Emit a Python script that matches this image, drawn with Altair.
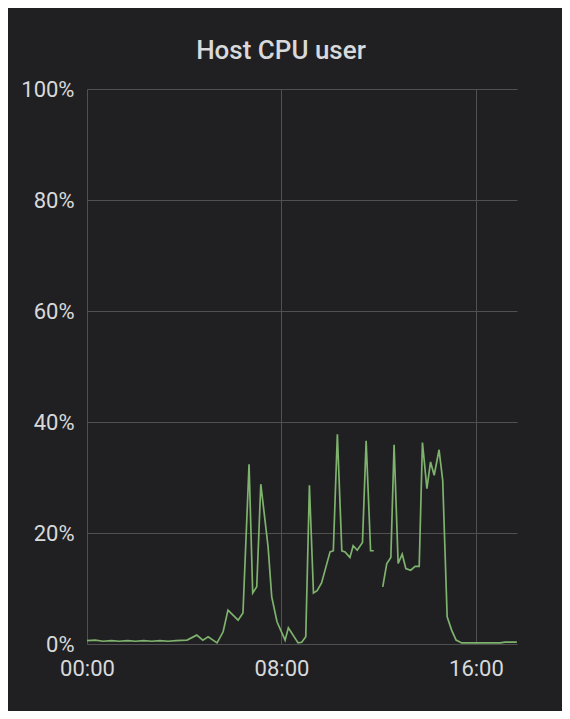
import altair as alt
import pandas as pd

times = [
    "00:00", "00:20", "00:40", "01:00", "01:20", "01:40", "02:00", "02:20",
    "02:40", "03:00", "03:20", "03:40", "04:07", "04:31", "04:46", "04:59",
    "05:21", "05:36", "05:48", "06:13", "06:25", "06:40", "06:49", "06:59",
    "07:09", "07:27", "07:36", "07:49", "08:09", "08:17", "08:41", "08:50",
    "09:00", "09:09", "09:19", "09:28", "09:39", "10:00", "10:08", "10:18",
    "10:29", "10:37", "10:49", "10:57", "11:07", "11:20", "11:29", "11:40",
    "11:48", "12:00", "12:10", "12:20", "12:30", "12:38", "12:48", "12:58",
    "13:07", "13:19", "13:30", "13:40", "13:48", "13:59", "14:08", "14:17",
    "14:29", "14:38", "14:49", "15:00", "15:11", "15:25", "16:00", "16:30",
    "17:00", "17:12", "17:41",
]
cpu_user = [
    0.6, 0.7, 0.5, 0.6, 0.5, 0.6, 0.5, 0.6,
    0.5, 0.6, 0.5, 0.6, 0.7, 1.6, 0.7, 1.3,
    0.2, 2.2, 6.1, 4.3, 5.6, 32.4, 9.2, 10.3,
    28.8, 17.5, 8.5, 4.0, 0.7, 2.9, 0.2, 0.3,
    1.3, 28.6, 9.2, 9.6, 11.0, 16.6, 16.8, 37.8,
    16.8, 16.6, 15.6, 17.7, 16.9, 18.3, 36.6, 16.8,
    16.8, None, 10.3, 14.5, 15.6, 35.9, 14.5, 16.2,
    13.6, 13.3, 14.0, 14.0, 36.3, 28.0, 32.8, 30.4,
    35.0, 29.5, 4.9, 2.5, 0.7, 0.2, 0.2, 0.2,
    0.2, 0.35, 0.35,
]

x_ticks = [0, 8, 16]
y_ticks = [0, 20, 40, 60, 80, 100]

hours = [int(t[:2]) + int(t[3:]) / 60 for t in times]
df = pd.DataFrame({"hour": hours, "value": cpu_user})

PANEL = "#202023"
GRID = "#505053"
TEXT = "#d8d9da"

chart = (
    alt.Chart(df)
    .mark_line(color="#7eb26d", strokeWidth=1.7, invalid="break-paths-show-domains")
    .encode(
        x=alt.X(
            "hour:Q",
            scale=alt.Scale(domain=[0, 17.69], nice=False, zero=False),
            axis=alt.Axis(
                values=x_ticks,
                labelExpr="(datum.value < 10 ? '0' : '') + datum.value + ':00'",
                title=None,
                grid=True,
                gridColor=GRID,
                ticks=False,
                domain=False,
                labelFlush=False,
                labelColor=TEXT,
                labelFontSize=22,
                labelFont="Roboto",
                labelPadding=14,
            ),
        ),
        y=alt.Y(
            "value:Q",
            scale=alt.Scale(domain=[0, 100], nice=False),
            axis=alt.Axis(
                values=y_ticks,
                labelExpr="datum.value + '%'",
                title=None,
                grid=True,
                gridColor=GRID,
                ticks=False,
                domain=False,
                labelColor=TEXT,
                labelFontSize=22,
                labelFont="Roboto",
                labelPadding=13,
            ),
        ),
    )
    .properties(
        width=430,
        height=555,
        title=alt.TitleParams(
            "Host CPU user",
            anchor="middle",
            frame="group",
            dx=-21,
            offset=14,
            color=TEXT,
            fontSize=26,
            font="Roboto",
            fontWeight=500,
        ),
        autosize=alt.AutoSizeParams(type="none"),
        padding={"left": 79, "top": 81, "right": 45, "bottom": 67},
        background=PANEL,
    )
    .configure_view(stroke=None)
)

chart.save("out.html", embed_options={"renderer": "svg", "actions": False})
